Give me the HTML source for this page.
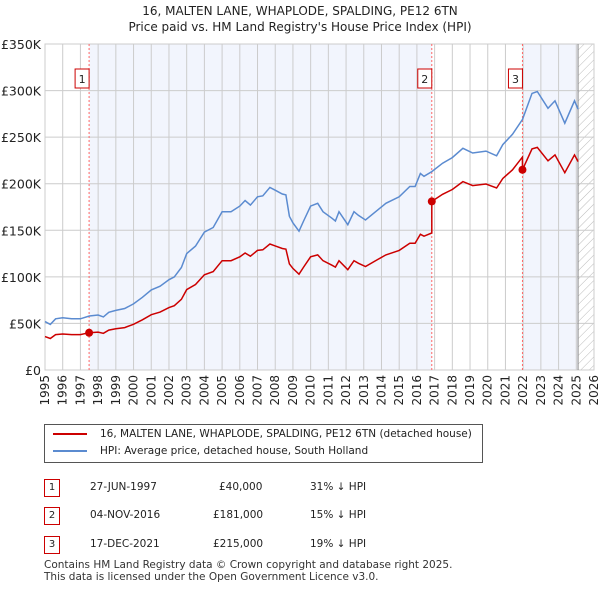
<!DOCTYPE html>
<html><head><meta charset="utf-8"><style>
body{margin:0;width:600px;height:590px;background:#fff;font-family:"DejaVu Sans","Liberation Sans",sans-serif;color:#222;position:relative;overflow:hidden}
.t{position:absolute;left:0;width:600px;text-align:center;font-size:12px}
.row{position:absolute;font-size:10.5px}
.num{position:absolute;left:44px;width:14px;height:16px;border:1px solid #c00;text-align:center;font-size:10px;line-height:16px}
</style></head><body>
<div class="t" style="top:4px">16, MALTEN LANE, WHAPLODE, SPALDING, PE12 6TN</div>
<div class="t" style="top:20px">Price paid vs. HM Land Registry's House Price Index (HPI)</div>
<svg id="c" width="600" height="420" style="position:absolute;left:0;top:0;font-family:'DejaVu Sans',sans-serif"></svg>
<div style="position:absolute;left:44px;top:424px;width:437px;height:37px;border:1px solid #555;font-size:10.5px">
<div style="position:absolute;left:8px;top:3px"><span style="display:inline-block;width:34px;height:2px;background:#c00;vertical-align:middle;margin-right:13px"></span>16, MALTEN LANE, WHAPLODE, SPALDING, PE12 6TN (detached house)</div>
<div style="position:absolute;left:8px;top:20px"><span style="display:inline-block;width:34px;height:2px;background:#5b8bd0;vertical-align:middle;margin-right:13px"></span>HPI: Average price, detached house, South Holland</div>
</div>
<div><div class="num" style="top:479px">1</div><div class="row" style="left:90px;top:481px">27-JUN-1997</div><div class="row" style="left:219px;top:481px">£40,000</div><div class="row" style="left:310px;top:481px">31% ↓ HPI</div></div>
<div><div class="num" style="top:507px">2</div><div class="row" style="left:90px;top:509px">04-NOV-2016</div><div class="row" style="left:213px;top:509px">£181,000</div><div class="row" style="left:310px;top:509px">15% ↓ HPI</div></div>
<div><div class="num" style="top:536px">3</div><div class="row" style="left:90px;top:538px">17-DEC-2021</div><div class="row" style="left:213px;top:538px">£215,000</div><div class="row" style="left:310px;top:538px">19% ↓ HPI</div></div>
<div style="position:absolute;left:44px;top:560px;font-size:10.5px;line-height:11.5px;color:#333">Contains HM Land Registry data © Crown copyright and database right 2025.<br>This data is licensed under the Open Government Licence v3.0.</div>
<script>
const hpiYears=[1995,1995.3,1995.6,1996,1996.5,1997,1997.5,1998,1998.3,1998.6,1999,1999.5,2000,2000.5,2001,2001.5,2002,2002.3,2002.7,2003,2003.5,2004,2004.5,2005,2005.5,2006,2006.3,2006.6,2007,2007.3,2007.7,2008,2008.4,2008.6,2008.8,2009,2009.34,2009.6,2010,2010.4,2010.7,2011.2,2011.4,2011.6,2012.1,2012.45,2012.7,2013.1,2013.8,2014.25,2015,2015.6,2015.9,2016.2,2016.4,2016.84,2017.45,2018,2018.6,2019.15,2019.9,2020.5,2020.85,2021.4,2021.96,2022.5,2022.8,2023.4,2023.8,2024.35,2024.9,2025.1];
const hpiValues=[52,49,55,56,55,55,58,59,57,62,64,66,71,78,86,90,97,100,110,125,133,148,153,170,170,176,182,177,186,187,196,193,189,188,165,158,149,160,176,179,170,163,160,170,156,170,166,161,172,179,186,197,197,211,208,213,222,228,238,233,235,230,242,253,269,297,299,281,289,265,289,280];
const saleYears=[1997.49,2016.84,2021.96];
const salePrices=[40,181,215];
const saleLabels=["1","2","3"];
const yTicks=[0,50,100,150,200,250,300,350];
const yTickLabels=["£0","£50K","£100K","£150K","£200K","£250K","£300K","£350K"];
const xTicks=[];for(let y=1995;y<=2026;y++)xTicks.push(y);
const X0=45,X1=594,Y0=370,Y1=44;
const xs=y=>X0+(y-1995)/31*(X1-X0), ys=v=>Y0-v/350*(Y0-Y1);
const svg=document.getElementById('c'),NS='http://www.w3.org/2000/svg';
function mk(t,a,p){const e=document.createElementNS(NS,t);for(const k in a)e.setAttribute(k,a[k]);(p||svg).appendChild(e);return e}
function hpiAt(t){for(let i=0;i<hpiYears.length-1;i++)if(t<=hpiYears[i+1])return hpiValues[i]+(hpiValues[i+1]-hpiValues[i])*(t-hpiYears[i])/(hpiYears[i+1]-hpiYears[i]);return hpiValues[hpiValues.length-1]}
const defs=mk('defs',{});const pat=mk('pattern',{id:'h',width:6,height:6,patternUnits:'userSpaceOnUse',patternTransform:'rotate(45)'},defs);mk('line',{x1:0,y1:0,x2:0,y2:6,stroke:'#bbb','stroke-width':1},pat);
let s=mk('rect',{x:xs(saleYears[0]),y:Y1,width:xs(saleYears[1])-xs(saleYears[0]),height:Y0-Y1,fill:'#f2f5fd'});
s=mk('rect',{x:xs(saleYears[2]),y:Y1,width:xs(2025.1)-xs(saleYears[2]),height:Y0-Y1,fill:'#f2f5fd'});
s=mk('rect',{x:xs(2025.1),y:Y1,width:X1-xs(2025.1),height:Y0-Y1,fill:'url(#h)'});
xTicks.forEach(y=>{const g=mk('line',{x1:xs(y),x2:xs(y),y1:Y1,y2:Y0,stroke:'#ccc'});
const t=mk('text',{x:0,y:0,'font-size':12,fill:'#222','text-anchor':'end',transform:`translate(${xs(y)+4},${Y0+5}) rotate(-90)`});t.textContent=y;});
yTicks.forEach((v,i)=>{const g=mk('line',{x1:X0,x2:X1,y1:ys(v),y2:ys(v),stroke:'#ccc'});
const t=mk('text',{x:41,y:ys(v)+5,'font-size':12.5,fill:'#222','text-anchor':'end'});t.textContent=yTickLabels[i];});
mk('rect',{x:X0,y:Y1,width:X1-X0,height:Y0-Y1,fill:'none',stroke:'#ccc'});
mk('line',{x1:xs(2025.1),x2:xs(2025.1),y1:Y1,y2:Y0,stroke:'#888'});
saleYears.forEach((y,i)=>{const l=mk('line',{x1:xs(y),x2:xs(y),y1:Y1,y2:Y0,stroke:'#f66','stroke-dasharray':'2,2'});
const b=mk('rect',{x:xs(y)-14,y:69,width:14,height:19,fill:'#fff',stroke:'#c00'});
const t=mk('text',{x:xs(y)-7,y:83,'font-size':11,'text-anchor':'middle',fill:'#222'});t.textContent=saleLabels[i];});
let d=hpiYears.map((y,i)=>(i?'L':'M')+xs(y).toFixed(1)+','+ys(hpiValues[i]).toFixed(1)).join('');
const hp=mk('path',{d,fill:'none',stroke:'#5b8bd0','stroke-width':1.5});
function seg(t){let k=0;for(let i=0;i<saleYears.length;i++)if(t>=saleYears[i])k=i;return k}
const pts=[...hpiYears,...saleYears,...saleYears.map(v=>v-0.001)].filter(t=>t>=1995).sort((a,b)=>a-b);
d=pts.map((t,i)=>{const k=seg(t);const v=salePrices[k]*hpiAt(t)/hpiAt(saleYears[k]);return (i?'L':'M')+xs(t).toFixed(1)+','+ys(v).toFixed(1)}).join('');
const rp=mk('path',{d,fill:'none',stroke:'#c00','stroke-width':1.5});
saleYears.forEach((y,i)=>{const c=mk('circle',{cx:xs(y),cy:ys(salePrices[i]),r:4,fill:'#c00'});});
</script>
</body></html>
